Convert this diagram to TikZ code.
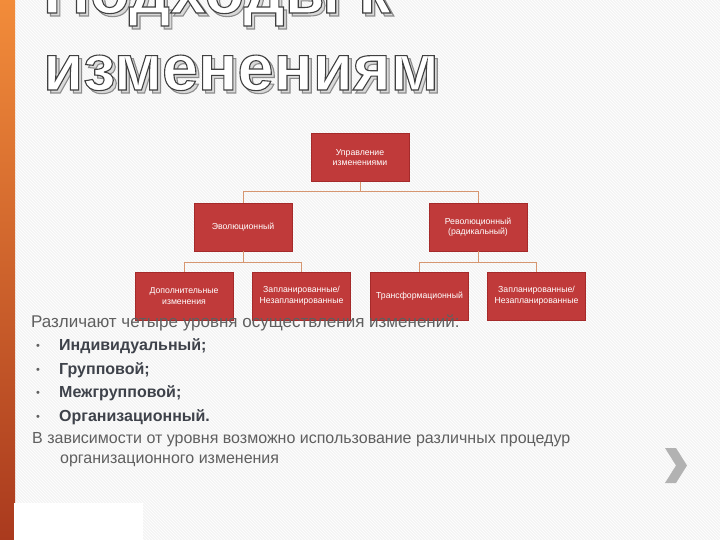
\documentclass[tikz,border=0pt]{standalone}
\usepackage{fontspec}
\setmainfont{Liberation Sans}
\usepackage{xcolor}
\usepackage{tikz}
\usetikzlibrary{positioning, patterns, calc}

\definecolor{boxred}{RGB}{192,58,58}
\definecolor{boxedge}{RGB}{165,42,42}
\definecolor{linkc}{RGB}{214,150,112}
\definecolor{txtgray}{RGB}{95,95,95}
\definecolor{itemgray}{RGB}{62,66,74}
\definecolor{bgc}{RGB}{244,244,244}
\definecolor{barorange}{RGB}{242,140,58}
\definecolor{bardark}{RGB}{170,58,30}

% lettres creuses (remplissage + contour)
\newcommand\creux[3]{\color{#1}\special{pdf:literal direct 2 Tr 1.1 w #2 G}#3\special{pdf:literal direct 0 Tr}}

\begin{document}
\begin{tikzpicture}[
		x=1pt, y=-1pt,
		chbox/.style={rectangle, draw=boxedge, fill=boxred, text=white, minimum width=98pt, minimum height=48pt, align=center, inner sep=1pt, font=\fontsize{8.7}{10.5}\selectfont},
		link/.style={draw=linkc, line width=0.8pt},
		ttl/.style={anchor=base west, inner sep=0pt, font=\fontsize{65}{70}\selectfont\bfseries},
		bodytxt/.style={anchor=base west, inner sep=0pt, text=txtgray, font=\fontsize{16}{19}\selectfont},
		itemtxt/.style={anchor=base west, inner sep=0pt, text=itemgray, font=\fontsize{16}{19}\selectfont\bfseries},
		puce/.style={anchor=base west, inner sep=0pt, text=txtgray, font=\fontsize{11}{13}\selectfont}
		]
		
		% Le fond
		\useasboundingbox (0,0) rectangle (720,540);
		\clip (0,0) rectangle (720,540);
		\fill[bgc] (0,0) rectangle (720,540);
		\fill[pattern=north west lines, pattern color=white] (0,0) rectangle (720,540);
		\shade[top color=barorange, middle color=barorange, bottom color=bardark] (0,0) rectangle (15,540);
		\fill[white] (14,503) rectangle (143,540);
		
		% Les blocs
		\node[chbox] (root) at (360,157.5) {Управление\\изменениями};
		\node[chbox] (evo) at (243,227) {Эволюционный};
		\node[chbox] (rev) at (478,227) {Революционный\\(радикальный)};
		\node[chbox] (addc) at (184,296) {Дополнительные\\изменения};
		\node[chbox] (plan1) at (301.5,296) {Запланированные/\\Незапланированные};
		\node[chbox] (trans) at (419.5,296) {Трансформационный};
		\node[chbox] (plan2) at (536.5,296) {Запланированные/\\Незапланированные};
		
		% Les liens
		\draw[link] (root.south) -- ++(0,10) -| (evo.north);
		\draw[link] (root.south) -- ++(0,10) -| (rev.north);
		\draw[link] (evo.south) -- ++(0,11) -| (addc.north);
		\draw[link] (evo.south) -- ++(0,11) -| (plan1.north);
		\draw[link] (rev.south) -- ++(0,11) -| (trans.north);
		\draw[link] (rev.south) -- ++(0,11) -| (plan2.north);
		
		% Le texte
		\node[bodytxt, font=\fontsize{17}{19}\selectfont] (intro) at (31,327) {Различают четыре уровня осуществления изменений:};
		\node[puce] (b1) at (36,349) {•};
		\node[itemtxt] (i1) at (59,350) {Индивидуальный;};
		\node[puce] (b2) at (36,373) {•};
		\node[itemtxt] (i2) at (59,374) {Групповой;};
		\node[puce] (b3) at (36,396) {•};
		\node[itemtxt] (i3) at (59,397) {Межгрупповой;};
		\node[puce] (b4) at (36,420) {•};
		\node[itemtxt] (i4) at (59,421) {Организационный.};
		\node[bodytxt] (dep1) at (32,443) {В зависимости от уровня возможно использование различных процедур};
		\node[bodytxt] (dep2) at (60,463) {организационного изменения};
		
		% La fleche
		\fill[gray!60] (665,448) -- (676,448) -- (687,465.5) -- (676,483) -- (665,483) -- (676,465.5) -- cycle;
		
		% Le titre
		\node[ttl] (t1s) at (46,16) {\creux{gray!30}{0.55}{Подходы к}};
		\node[ttl] (t1) at (43,13) {\creux{white}{0.25}{Подходы к}};
		\node[ttl] (t2s) at (46,93) {\creux{gray!30}{0.55}{изменениям}};
		\node[ttl] (t2) at (43,90) {\creux{white}{0.25}{изменениям}};
	\end{tikzpicture}
\end{document}
